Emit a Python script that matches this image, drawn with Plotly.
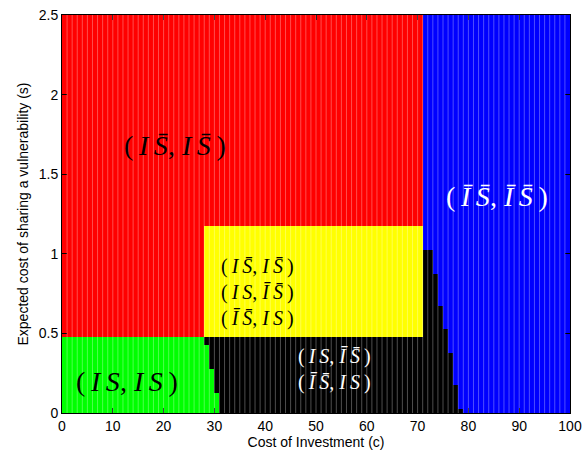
import numpy as np
import plotly.graph_objects as go

# Grid of the parameter sweep
c_edges = list(range(0, 101))                     # cost of investment, cell edges
s_values = [round(0.05 * i, 2) for i in range(51)]  # expected sharing cost, cell centres

# Boundary c where (IS,IS) stops, for s = 0 .. 0.45
green_limit = [31, 31, 31, 30, 30, 30, 29, 29, 29, 28]
# Boundary c where the mixed (IS, ĪS̄) region stops, for s = 0 .. 1.0
black_limit = [79, 78, 78, 78, 77, 77, 77, 77, 76, 76, 76,
               75, 75, 75, 74, 74, 74, 74, 73, 73, 73]
# Region thresholds
red_blue_c = 71
yellow_c = (28, 71)
yellow_s = (0.5, 1.15)

# 0 green, 1 red, 2 yellow, 3 black, 4 blue
region_colors = ["#00ff00", "#ff0000", "#ffff00", "#000000", "#0000ff"]


def region(c, i):
    s = s_values[i]
    eps = 1e-9
    if i < len(green_limit) and c < green_limit[i]:
        return 0
    in_yellow_band = yellow_s[0] - eps <= s <= yellow_s[1] + eps
    if s < yellow_s[0] - eps or (in_yellow_band and c >= yellow_c[0]):
        if in_yellow_band and c < yellow_c[1]:
            return 2
        if i < len(black_limit) and c < black_limit[i]:
            return 3
        return 4
    if c < red_blue_c:
        return 1
    if i < len(black_limit) and c < black_limit[i]:
        return 3
    return 4


z = [[region(c, i) for c in c_edges[:-1]] for i in range(len(s_values))]

s_edges = [0.0] + [round(s + 0.025, 3) for s in s_values[:-1]] + [2.5]

n = len(region_colors)
scale = []
for k, col in enumerate(region_colors):
    scale.append([k / n, col])
    scale.append([(k + 1) / n, col])

fig = go.Figure()
fig.add_trace(go.Heatmap(
    x=c_edges, y=s_edges, z=z,
    colorscale=scale, zmin=-0.5, zmax=n - 0.5,
    showscale=False, hoverinfo="skip",
))

# faint cell edges between columns
for c in c_edges[1:-1]:
    fig.add_shape(type="line", x0=c, x1=c, y0=0, y1=2.5, xref="x", yref="y",
                  line=dict(color="rgba(255,255,255,0.3)", width=1), layer="above")

# strategy-pair labels, typeset with math-like spacing
TS = "\u2009"  # thin space
SYM = {"I": "I", "Ib": "I\u0304", "S": "S", "Sb": "S\u0304"}


def strategy(a, b):
    return f"<i>{SYM[a]}{TS}{SYM[b]}</i>"


def pair(p, q):
    return f"({TS}{strategy(*p)}, {strategy(*q)}{TS})"


serif = "Liberation Serif"
# (c, s, text, size, colour)
labels = [
    (22.2, 1.68, pair(("I", "Sb"), ("I", "Sb")), 28, "black"),
    (85.7, 1.36, pair(("Ib", "Sb"), ("Ib", "Sb")), 28, "white"),
    (12.7, 0.20, pair(("I", "S"), ("I", "S")), 28, "black"),
    (38.4, 0.76, "<br>".join([pair(("I", "Sb"), ("I", "Sb")),
                              pair(("I", "S"), ("Ib", "Sb")),
                              pair(("Ib", "Sb"), ("I", "S"))]), 20, "black"),
    (53.7, 0.276, "<br>".join([pair(("I", "S"), ("Ib", "Sb")),
                               pair(("Ib", "Sb"), ("I", "S"))]), 20, "white"),
]
for x, y, t, size, col in labels:
    fig.add_annotation(x=x, y=y, text=t, showarrow=False,
                       font=dict(family=serif, size=size, color=col))

sans = "Liberation Sans"
axis_common = dict(
    showline=True, linecolor="black", linewidth=1, mirror="ticks",
    ticks="inside", ticklen=5, tickcolor="black", showgrid=False, zeroline=False,
    tickfont=dict(family=sans, size=14, color="black"),
    layer="above traces", automargin=False,
)
fig.update_xaxes(range=[0, 100], tickvals=list(range(0, 101, 10)),
                 title=dict(text="Cost of Investment (c)", standoff=2,
                            font=dict(family=sans, size=14, color="black")),
                 **axis_common)
fig.update_yaxes(range=[0, 2.5], tickvals=[0, 0.5, 1, 1.5, 2, 2.5],
                 ticktext=["0", "0.5", "1", "1.5", "2", "2.5"],
                 title=dict(text="Expected cost of sharing a vulnerability (s)", standoff=6,
                            font=dict(family=sans, size=14, color="black")),
                 **axis_common)
fig.update_layout(
    width=585, height=454,
    margin=dict(l=62, r=15, t=15, b=41),
    paper_bgcolor="white", plot_bgcolor="white",
)
fig.write_html("out.html")
